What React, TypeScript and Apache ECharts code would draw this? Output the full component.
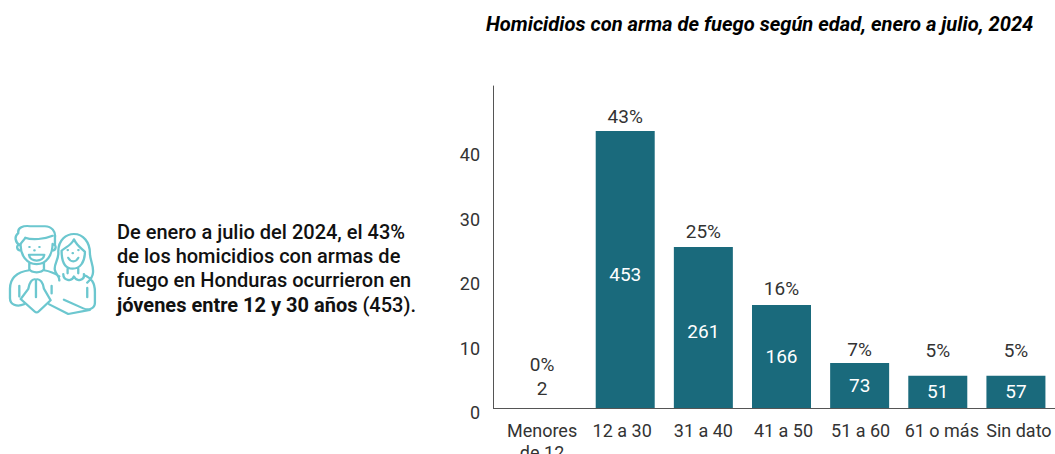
import React, { useEffect, useRef } from "react";
import * as echarts from "echarts";

const categories = ["Menores\nde 12", "12 a 30", "31 a 40", "41 a 50", "51 a 60", "61 o más", "Sin dato"];
const percents = [0, 43, 25, 16, 7, 5, 5];
const counts = [2, 453, 261, 166, 73, 51, 57];
const titleText = "Homicidios con arma de fuego según edad, enero a julio, 2024";
const noteLines = [
  "De enero a julio del 2024, el 43%",
  "de los homicidios con armas de",
  "fuego en Honduras ocurrieron en",
];
const noteLastBold = "jóvenes entre 12 y 30 años";
const noteLastPlain = " (453).";

// Hand-placement nudges of the labels in the source layout (pixels, by category).
const axisLabelNudge = [-5, -3, 0, 2, 1, 4, 3];
const topLabelNudge = [
  [-5, -6],
  [0, -1],
  [0, -2],
  [0, -2],
  [0, 1],
  [0, -11],
  [0, -11],
];
const insideLabelNudge = [0, 4.5, 4, 0.5, 0, 0, 0];

const ICON =
  "M60 95 C45 85 42 65 55 55 C52 38 70 30 90 33 L135 33 C155 33 168 50 165 70 L165 92 " +
  "M62 92 C62 85 72 80 76 70 C95 78 135 75 158 64 " +
  "M62 90 C60 125 80 155 110 155 C140 155 158 125 158 90 " +
  "M60 92 C48 92 48 112 64 112 M160 92 C170 92 170 112 156 112 " +
  "M87 125 L133 125 C130 150 90 150 87 125 Z " +
  "M88 150 L88 172 C95 185 125 185 132 172 L132 150 " +
  "M88 175 C55 180 30 195 30 235 L30 265 C30 285 50 295 72 285 " +
  "M132 175 C150 178 165 185 178 195 " +
  "M58 225 L58 260 M155 225 L155 250 " +
  "M108 205 C96 200 88 215 85 235 L62 268 L104 308 C108 312 112 312 116 308 L152 272 L132 235 C130 215 120 200 108 205 Z M108 205 L108 262 " +
  "M175 115 C175 75 200 58 222 58 C250 58 270 85 270 120 C270 145 285 165 278 190 C275 205 265 210 262 215 " +
  "M175 115 C178 140 160 155 165 175 C168 190 180 195 178 208 " +
  "M185 112 C195 102 215 95 222 75 C230 95 245 105 255 115 C255 150 240 170 218 170 C195 170 185 150 185 112 " +
  "M205 135 C212 150 228 150 235 135 " +
  "M203 170 L203 185 M235 170 L235 185 " +
  "M190 187 C190 208 215 214 222 195 C230 214 255 208 252 187 " +
  "M252 190 C275 200 285 215 285 245 L285 280 C285 300 265 305 250 298 L192 270 " +
  "M262 232 L262 262 M148 285 L205 316 L270 303 " +
  "M88 100 L89 100 M118 100 L119 100 M103 111 L104 111 M203 110 L204 110 M235 110 L236 110 M218 120 L219 120";

echarts.graphic.registerShape("pareja", echarts.graphic.extendPath(ICON, {}));

const FONT = "Roboto";
const TEAL = "#1a6a7c";
const INK = "#333333";
const SIZE = 18;
const DATA_SIZE = 19;

export default function App() {
  const ref = useRef<HTMLDivElement>(null);
  useEffect(() => {
    const chart = echarts.init(ref.current!, null, { renderer: "svg" });
    const noteY = [232, 256, 280];
    chart.setOption({
      animation: false,
      backgroundColor: "#ffffff",
      textStyle: { fontFamily: FONT },
      title: {
        text: titleText,
        left: 486,
        top: 14,
        padding: 0,
        textStyle: { fontFamily: FONT, fontSize: 20.15, fontWeight: "bold", fontStyle: "italic", color: "#000" },
      },
      grid: { left: 508, right: 0, top: 86, bottom: 46, outerBoundsMode: "none" },
      xAxis: {
        type: "category",
        data: categories.map((value, i) => {
          const n = axisLabelNudge[i];
          return {
            value,
            textStyle: { padding: n < 0 ? [0, -2 * n, 0, 0] : [0, 0, 0, 2 * n] },
          };
        }),
        axisTick: { show: false },
        axisLine: { lineStyle: { color: "#555", width: 1 } },
        axisLabel: { interval: 0, margin: 11, fontFamily: FONT, fontSize: SIZE, color: INK, lineHeight: 22, hideOverlap: false },
      },
      yAxis: {
        type: "value",
        min: 0,
        max: 50,
        interval: 10,
        offset: 15,
        splitLine: { show: false },
        axisTick: { show: false },
        axisLine: { show: true, lineStyle: { color: "#555", width: 1 } },
        axisLabel: {
          margin: 13,
          fontFamily: FONT,
          fontSize: SIZE,
          color: INK,
          verticalAlign: "top",
          lineHeight: 9,
          formatter: (v: number) => (v === 50 ? "" : String(v)),
        },
      },
      series: [
        {
          type: "bar",
          barWidth: 59,
          barGap: "-100%",
          itemStyle: { color: TEAL },
          data: percents.map((value, i) => ({
            value,
            label: { offset: [0, insideLabelNudge[i]] },
          })),
          label: {
            show: true,
            position: "inside",
            fontFamily: FONT,
            fontSize: DATA_SIZE,
            color: "#ffffff",
            formatter: (p: any) => (p.dataIndex === 0 ? "" : String(counts[p.dataIndex])),
          },
        },
        {
          type: "bar",
          barWidth: 59,
          itemStyle: { color: "transparent" },
          data: percents.map((value, i) => ({
            value,
            label: { offset: topLabelNudge[i] },
          })),
          label: {
            show: true,
            position: "top",
            distance: 2,
            fontFamily: FONT,
            fontSize: DATA_SIZE,
            color: INK,
            lineHeight: 24,
            formatter: (p: any) => (p.dataIndex === 0 ? `${p.value}%\n${counts[0]}` : `${p.value}%`),
          },
        },
      ],
      graphic: [
        { type: "line", shape: { x1: 493, y1: 408.5, x2: 508, y2: 408.5 }, style: { stroke: "#555", lineWidth: 1 }, silent: true },
        { type: "pareja", x: 0, y: 216, scaleX: 1 / 3, scaleY: 0.31, style: { fill: "none", stroke: "#6cc7cf", lineWidth: 7, lineCap: "round", lineJoin: "round" }, silent: true },
        ...noteLines.map((t, i) => ({
          type: "text",
          x: 117,
          y: noteY[i],
          style: { text: t, fontFamily: FONT, fontSize: 20, fontWeight: 500, fill: "#111", verticalAlign: "middle" },
        })),
        {
          type: "text",
          x: 117,
          y: 305,
          style: {
            text: `{b|${noteLastBold}}{m|${noteLastPlain}}`,
            verticalAlign: "middle",
            rich: {
              b: { fontFamily: FONT, fontSize: 20, fontWeight: "bold", fill: "#111", color: "#111" },
              m: { fontFamily: FONT, fontSize: 20, fontWeight: 500, fill: "#111", color: "#111" },
            },
          },
        },
      ],
    });
    return () => chart.dispose();
  }, []);
  return <div ref={ref} style={{ position: "absolute", left: 0, top: 0, width: 1055, height: 454, overflow: "hidden" }} />;
}
